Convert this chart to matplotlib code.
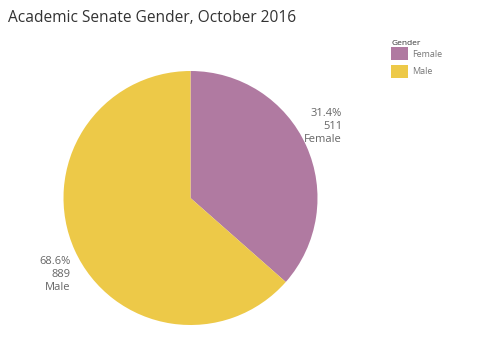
import numpy as np
import matplotlib.pyplot as plt
from matplotlib.patches import Patch

plt.rcParams['font.family'] = ['Open Sans', 'DejaVu Sans']

genders = ['Female', 'Male']
counts = [511, 889]
pct_labels = ['31.4%', '68.6%']
colors = ['#B07AA1', '#EDC948']

W, H = 500, 363
fig = plt.figure(figsize=(W / 100, H / 100), dpi=100)

# pie centre / radius in pixels
cx, cy, r = 190.5, 198, 127
ax = fig.add_axes([(cx - r) / W, 1 - (cy + r) / H, 2 * r / W, 2 * r / H])
wedges, _ = ax.pie(counts, colors=colors, startangle=90, counterclock=False,
                   wedgeprops=dict(linewidth=0))
ax.set_xlim(-1, 1)
ax.set_ylim(-1, 1)

# label positions: distance / angle offsets from wedge middle
offsets = [(1.32, 1.0, 0.0), (1.12, 8.0, 0.0)]
for w, g, n, p, (d, dang, dx) in zip(wedges, genders, counts, pct_labels, offsets):
    mid = np.deg2rad((w.theta1 + w.theta2) / 2 + dang)
    x = d * np.cos(mid) + dx
    y = d * np.sin(mid)
    ax.text(x, y, f"{p}\n{n}\n{g}", ha='right', va='center', fontsize=8,
            color='#666666', linespacing=1.25, clip_on=False)

fig.text(8 / W, 1 - 18 / H, 'Academic Senate Gender, October 2016',
         fontsize=11.2, color='#333333', va='center', ha='left')

handles = [Patch(facecolor=c, edgecolor='none') for c in colors]
leg = fig.legend(handles, genders, title='Gender', loc='upper left',
                 bbox_to_anchor=(385 / W, 1 - 34 / H), frameon=False,
                 fontsize=6.5, title_fontsize=6, handlelength=1.8, handleheight=1.8,
                 labelspacing=0.55, handletextpad=0.5, borderpad=0.2)
leg._legend_box.align = 'left'
leg._legend_box.sep = 0
for t in leg.get_texts():
    t.set_color('#777777')
leg.get_title().set_color('#333333')

fig.savefig('out.png', dpi=100)
